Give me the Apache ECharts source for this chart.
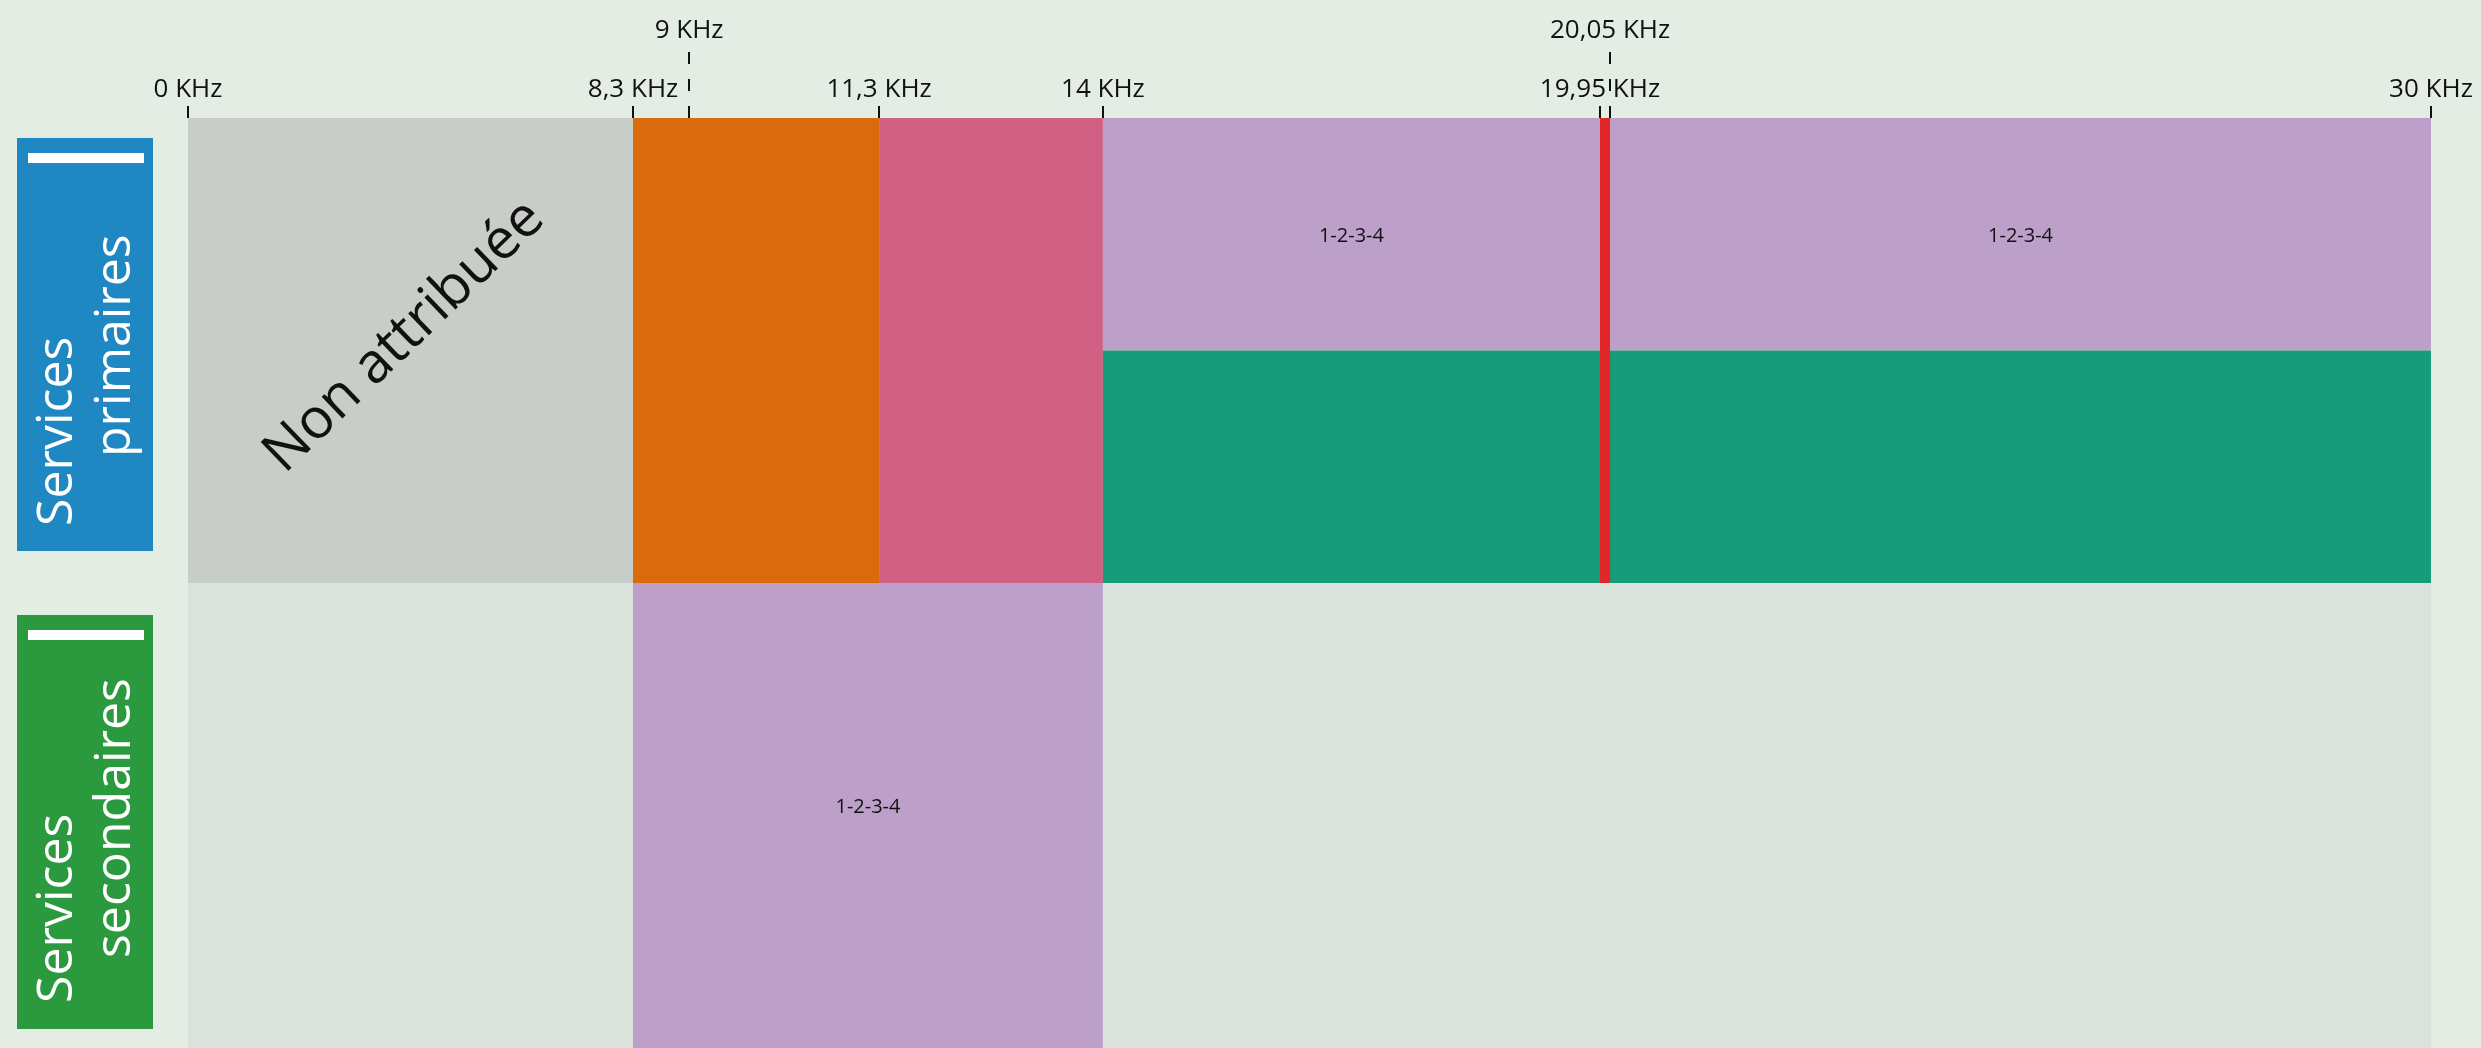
<!DOCTYPE html>
<html>
<head>
<meta charset="utf-8">
<script src="https://cdn.jsdelivr.net/npm/echarts@6/dist/echarts.min.js"></script>
<style>
html,body{margin:0;padding:0;background:#e4ede4;}
#chart{width:2481px;height:1048px;}
</style>
</head>
<body>
<div id="chart"></div>
<script>
// ---------- DATA ----------
// band-plan boundaries (KHz) and their tick labels
const boundaryKHz    = [0, 8.3, 9, 11.3, 14, 19.95, 20.05, 30];
const boundaryLabels = ['0 KHz', '8,3 KHz', '9 KHz', '11,3 KHz', '14 KHz', '19,95 KHz', '20,05 KHz', '30 KHz'];
const boundaryRaised = [false, false, true, false, false, false, true, false];
// schematic (not-to-scale) position of each boundary along the band plan, in % of its width
const boundaryPos    = [0, 19.84, 22.34, 30.81, 40.79, 62.95, 63.40, 100];

// rows
const rowLine1 = ['Services', 'Services'];
const rowLine2 = ['primaires', 'secondaires'];

// primary services
const primFrom    = [0, 8.3, 11.3, 14, 20.05, 14, 19.95];
const primTo      = [8.3, 11.3, 14, 19.95, 30, 30, 20.05];
const primPart    = ['full', 'full', 'full', 'upper', 'upper', 'lower', 'full'];
const primService = ['none', 'svcA', 'svcB', 'svcC', 'svcC', 'svcD', 'svcE'];
const primLabel   = ['Non attribuée', '', '', '1-2-3-4', '1-2-3-4', '', ''];

// secondary services
const secFrom    = [0, 8.3, 14];
const secTo      = [8.3, 14, 30];
const secService = ['empty', 'svcC', 'empty'];
const secLabel   = ['', '1-2-3-4', ''];

// ---------- STYLE ----------
const serviceColor = {
  none: '#c9cdc8', svcA: '#d96b0d', svcB: '#d16084', svcC: '#bca0ca',
  svcD: '#179b78', svcE: '#e3262a', empty: '#d9e3dc'
};
const FONT = '"Open Sans", "Noto Sans", sans-serif';

function toPos(f) { return boundaryPos[boundaryKHz.indexOf(f)]; }
function partRange(row, part) {
  if (row === 'secondary') return [0, 1];
  if (part === 'upper') return [1.5, 2];
  if (part === 'lower') return [1, 1.5];
  return [1, 2];
}
function buildData(from, to, row, parts) {
  return from.map((f, i) => {
    const r = partRange(row, parts ? parts[i] : 'full');
    return [toPos(f), toPos(to[i]), r[0], r[1]];
  });
}
function makeRender(services, labels, labelDy) {
  return function (params, api) {
    const i = params.dataIndex;
    const p0 = api.coord([api.value(0), api.value(3)]);
    const p1 = api.coord([api.value(1), api.value(2)]);
    const w = p1[0] - p0[0], h = p1[1] - p0[1];
    const children = [{
      type: 'rect',
      shape: { x: p0[0], y: p0[1], width: w, height: h },
      style: { fill: serviceColor[services[i]] }
    }];
    const lab = labels[i];
    if (lab) {
      const big = services[i] === 'none';
      children.push({
        type: 'text',
        x: p0[0] + w / 2 + (big ? -6 : 0),
        y: p0[1] + h / 2 + (big ? -14 : labelDy),
        rotation: big ? 44 * Math.PI / 180 : 0,
        style: {
          text: lab, fill: '#111',
          font: (big ? '56px ' : '20px ') + FONT,
          align: 'center', verticalAlign: 'middle'
        }
      });
    }
    return { type: 'group', children };
  };
}

const normalPos = boundaryPos.filter((p, i) => !boundaryRaised[i]);
const raisedPos = boundaryPos.filter((p, i) => boundaryRaised[i]);
function labelFor(v) {
  let best = 0, d = Infinity;
  boundaryPos.forEach((p, i) => { if (Math.abs(p - v) < d) { d = Math.abs(p - v); best = i; } });
  return boundaryLabels[best];
}

const chart = echarts.init(document.getElementById('chart'));
const axisBase = {
  type: 'value', min: 0, max: 100, position: 'top',
  axisLine: { show: false, onZero: false }, splitLine: { show: false }
};
chart.setOption({
  backgroundColor: '#e4ede4',
  animation: false,
  grid: { left: 188, right: 50, top: 118, bottom: 0 },
  xAxis: [
    Object.assign({}, axisBase, {
      axisTick: { show: true, customValues: normalPos, length: 12, lineStyle: { color: '#111', width: 2 } },
      axisLabel: { customValues: normalPos, formatter: labelFor, margin: 15, fontSize: 26, color: '#111', fontFamily: FONT }
    }),
    Object.assign({}, axisBase, {
      offset: 0,
      axisTick: { show: true, customValues: raisedPos, length: 68, lineStyle: { color: '#111', width: 2, type: [12, 15] } },
      axisLabel: { customValues: raisedPos, formatter: labelFor, margin: 74, fontSize: 26, color: '#111', fontFamily: FONT }
    })
  ],
  yAxis: {
    type: 'value', min: 0, max: 2, show: false,
    axisLine: { show: false, onZero: false }, axisTick: { show: false }, axisLabel: { show: false }, splitLine: { show: false }
  },
  series: [
    {
      type: 'custom', name: 'Services secondaires', xAxisIndex: 0,
      renderItem: makeRender(secService, secLabel, -8),
      data: buildData(secFrom, secTo, 'secondary', null), z: 1
    },
    {
      type: 'custom', name: 'Services primaires', xAxisIndex: 0,
      renderItem: makeRender(primService, primLabel, 2),
      data: buildData(primFrom, primTo, 'primary', primPart), z: 2
    }
  ]
});

// row header boxes, placed from the y axis
const yTop = chart.convertToPixel({ yAxisIndex: 0 }, 2);
const yMid = chart.convertToPixel({ yAxisIndex: 0 }, 1);
const yBot = chart.convertToPixel({ yAxisIndex: 0 }, 0);
const boxes = [
  { top: yTop + 20, bottom: yMid - 32, color: '#1f87c1', s1: 25, s2: 94 },
  { top: yMid + 32, bottom: yBot - 19, color: '#2b9a3e', s1: 26, s2: 71 }
];
const graphics = [];
boxes.forEach((b, i) => {
  graphics.push({ type: 'rect', shape: { x: 17, y: b.top, width: 136, height: b.bottom - b.top }, style: { fill: b.color } });
  graphics.push({ type: 'rect', shape: { x: 28, y: b.top + 15, width: 116, height: 10 }, style: { fill: '#ffffff' } });
  graphics.push({ type: 'text', x: 58, y: b.bottom - b.s1, rotation: Math.PI / 2,
    style: { text: rowLine1[i], fill: '#ffffff', font: '50px ' + FONT, align: 'left', verticalAlign: 'middle' } });
  graphics.push({ type: 'text', x: 116, y: b.bottom - b.s2, rotation: Math.PI / 2,
    style: { text: rowLine2[i], fill: '#ffffff', font: '50px ' + FONT, align: 'left', verticalAlign: 'middle' } });
});
chart.setOption({ graphic: graphics });
</script>
</body>
</html>
